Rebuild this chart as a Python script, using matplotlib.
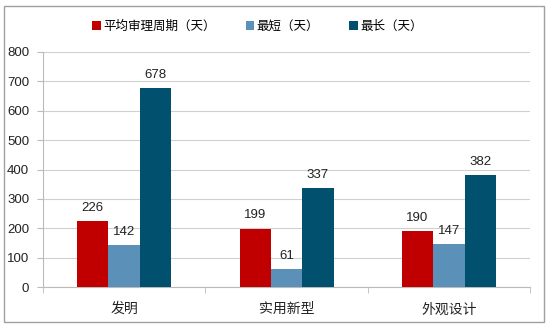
import matplotlib.pyplot as plt
import numpy as np
from matplotlib.patches import Rectangle

plt.rcParams['font.family'] = ['Noto Sans CJK SC', 'DejaVu Sans']

categories = ['发明', '实用新型', '外观设计']
series_names = ['平均审理周期（天）', '最短（天）', '最长（天）']
avg_days = [226, 199, 190]
min_days = [142, 61, 147]
max_days = [678, 337, 382]
colors = ['#C00000', '#5B90B8', '#00506E']

fig = plt.figure(figsize=(5.56, 3.27), dpi=100)
ax = fig.add_axes([0.0773, 0.1223, 0.876, 0.7187])

x = np.arange(len(categories))
width = 0.193
for i, (vals, name, c) in enumerate(zip([avg_days, min_days, max_days], series_names, colors)):
    bars = ax.bar(x + (i - 1) * width, vals, width, color=c, label=name, zorder=3)
    for b, v in zip(bars, vals):
        ax.text(b.get_x() + b.get_width() / 2, v + 24, str(v), ha='center', va='bottom',
                fontsize=9.5, family='Liberation Sans', color='#222222')

ax.set_xlim(-0.5, 2.5)
ax.set_ylim(0, 800)
ax.set_yticks(range(0, 801, 100))
ax.set_xticks(x)
ax.set_xticklabels(categories, fontsize=10, color='#222222')
ax.set_xticks([-0.5, 0.5, 1.5, 2.5], minor=True)
ax.tick_params(axis='x', which='major', length=0, pad=11)
ax.tick_params(axis='x', which='minor', length=4, color='#BBBBBB', direction='out')
ax.tick_params(axis='y', length=4, color='#BBBBBB', labelsize=9.5, pad=6)
for lbl in ax.get_yticklabels():
    lbl.set_family('Liberation Sans')
    lbl.set_color('#222222')
ax.grid(axis='y', color='#D0D0D0', linewidth=0.8, zorder=0)
for s in ['top', 'right']:
    ax.spines[s].set_visible(False)
for s in ['left', 'bottom']:
    ax.spines[s].set_color('#BBBBBB')

fig.legend(loc='center', bbox_to_anchor=(0.463, 0.92), ncol=3, frameon=False,
           fontsize=9, handlelength=0.7, handleheight=0.7, handletextpad=0.2,
           columnspacing=2.4)

# outer frame
fig.patches.append(Rectangle((4 / 556, 5 / 327), 540 / 556, 316 / 327, transform=fig.transFigure,
                             fill=False, edgecolor='#A0A0A0', linewidth=1.0))

fig.savefig('out.png', dpi=100)
